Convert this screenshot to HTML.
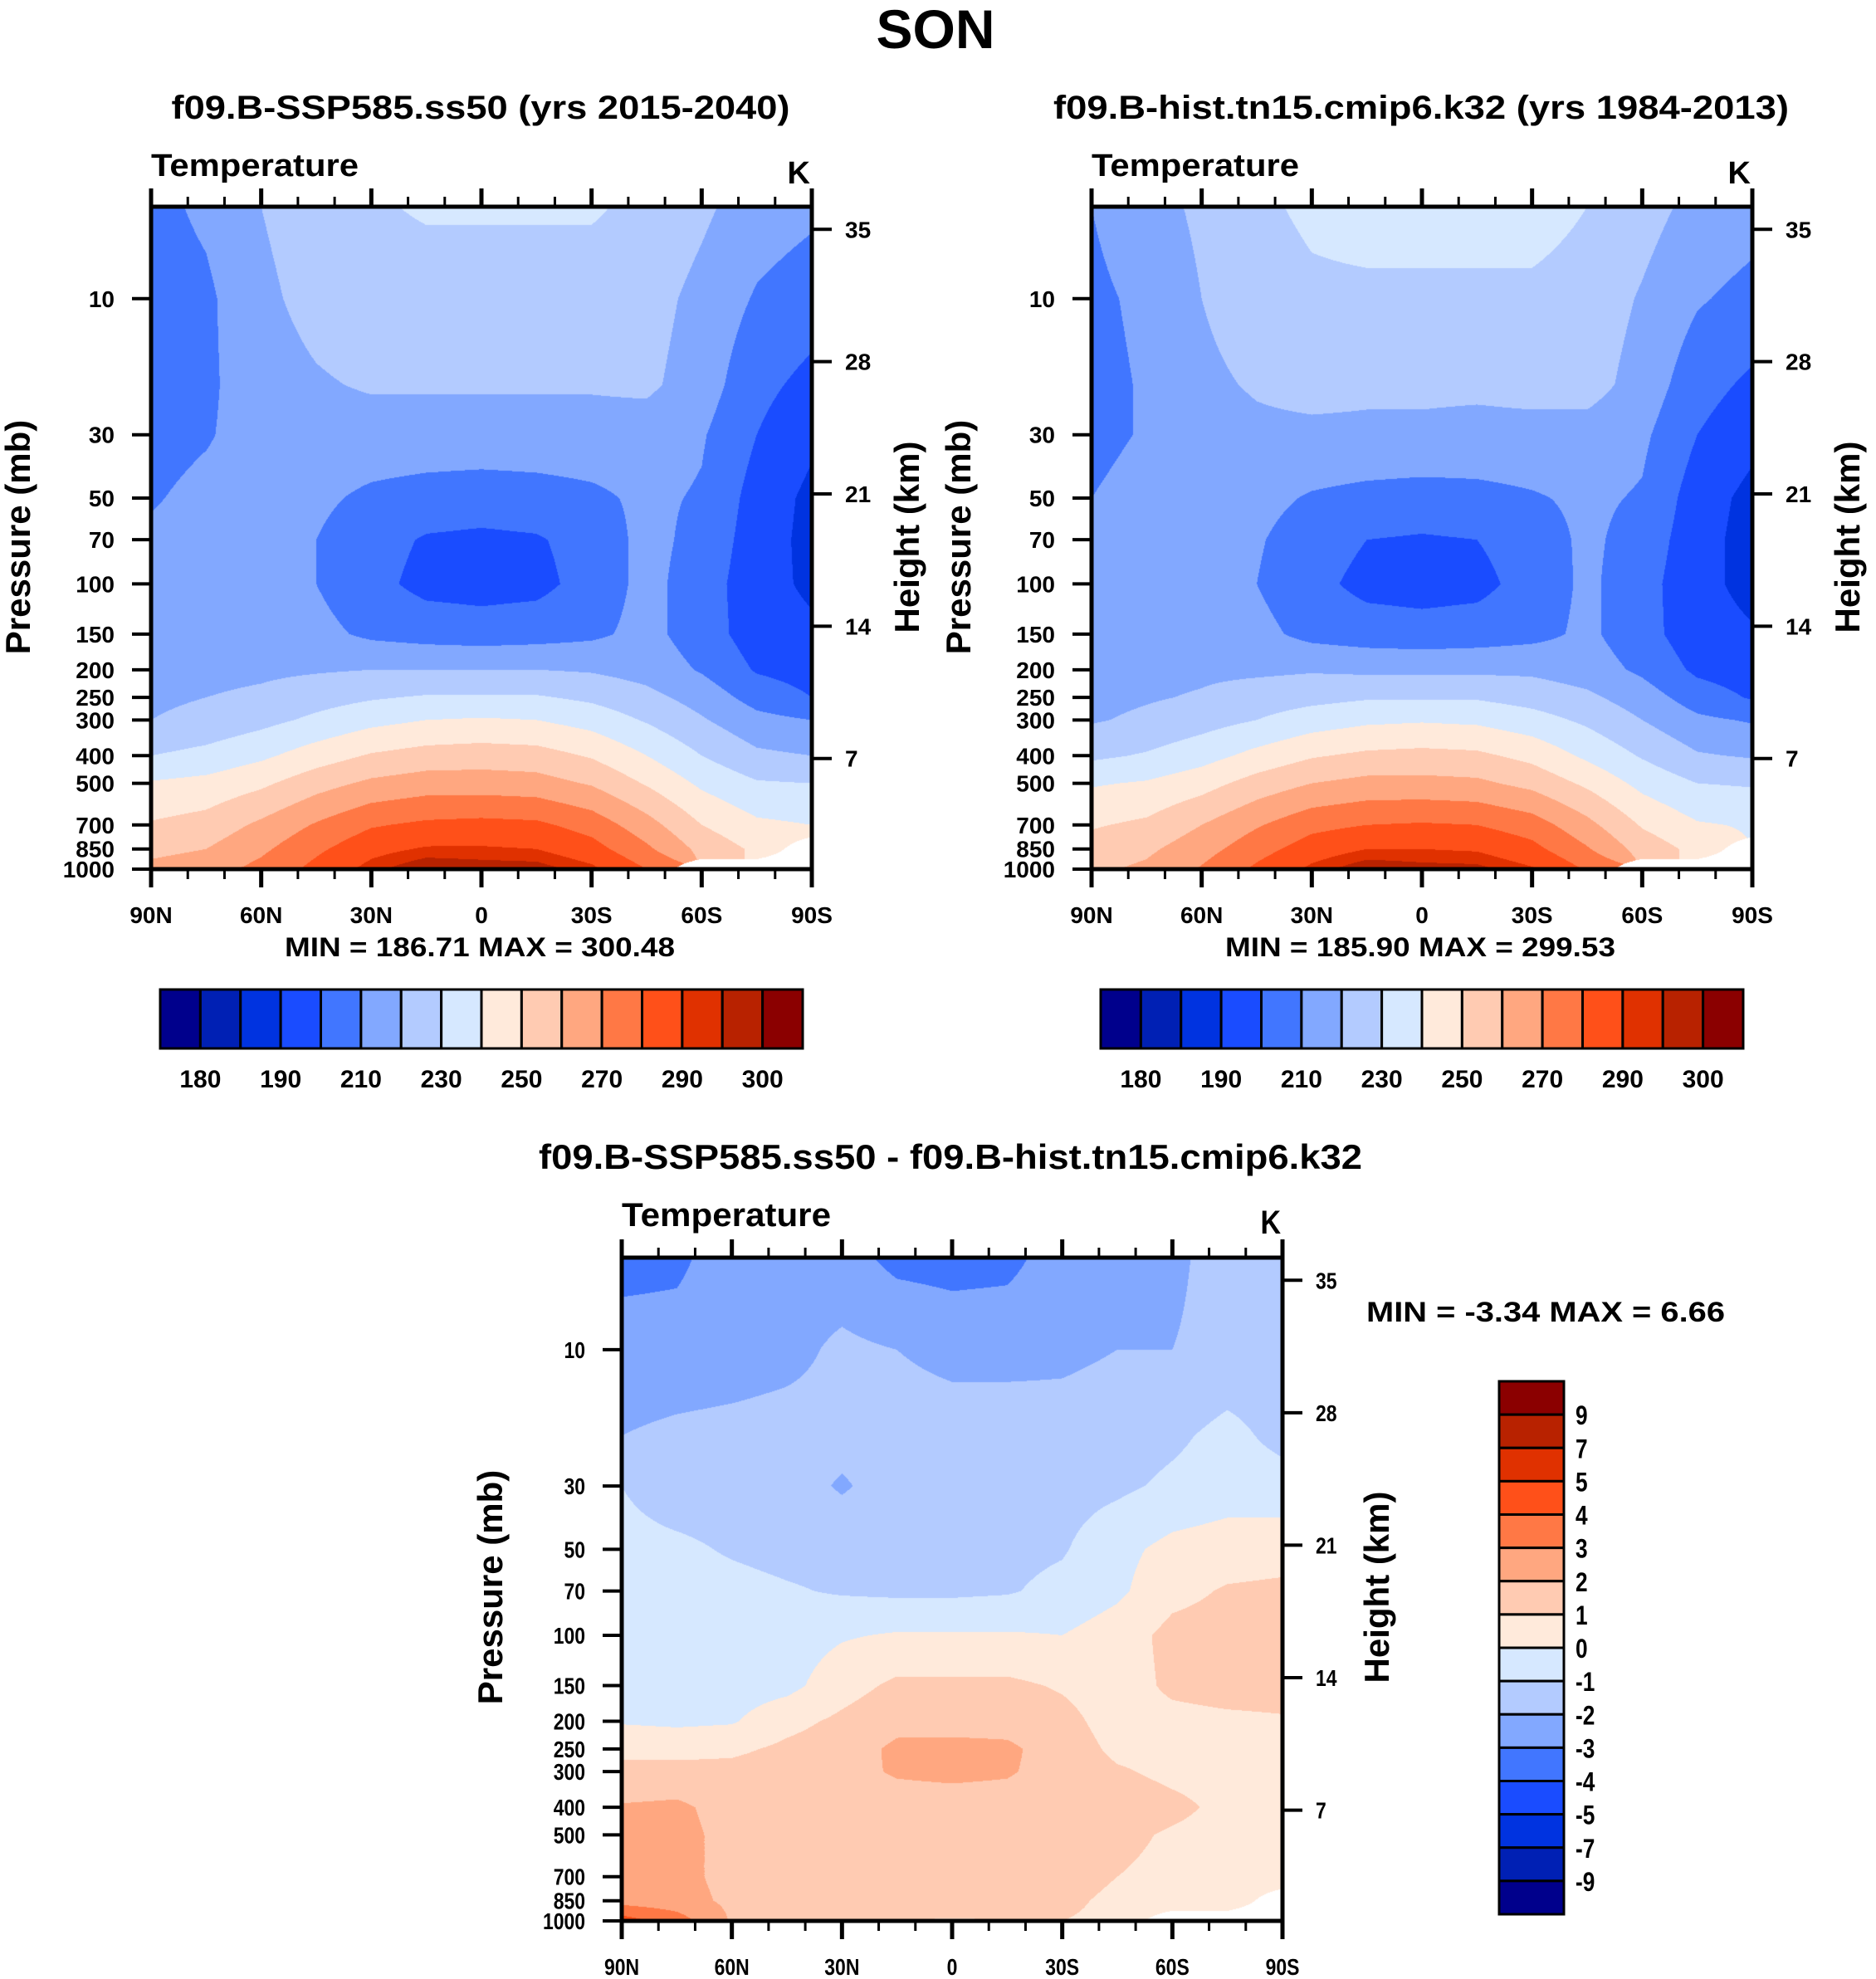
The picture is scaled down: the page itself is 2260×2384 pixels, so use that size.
<!DOCTYPE html>
<html><head><meta charset="utf-8">
<style>
html,body{margin:0;padding:0;background:#fff;}
#root{position:relative;width:2260px;height:2384px;overflow:hidden;background:#fff;}
canvas{position:absolute;}
svg{position:absolute;left:0;top:0;}
text{font-family:"Liberation Sans",sans-serif;font-weight:bold;fill:#000;}
</style></head>
<body>
<div id="root">
<canvas id="c1"></canvas>
<canvas id="c2"></canvas>
<canvas id="c3"></canvas>
<svg id="svg" width="2260" height="2384"></svg>
</div>
<script>
// ---- data ----
const LATS = [90,75,60,45,30,15,0,-15,-30,-45,-60,-75,-90];
const LEVELS = [4.76,10,20,30,50,70,100,150,200,250,300,400,500,700,850,1000];
const N = NaN;
const SSP = [
[207,212,220,225,229,231,231,231,231,228,222,215,212],
[205,208,218,223,226,226,226,226,226,224,217,209,205],
[205,208,216,219,221,221,221,221,221,222,215,203,197],
[206,209,215,216,216,216,216,216,216,215,211,200,192],
[209,213,214,212,208,206,205,206,208,212,209,196,187.5],
[212,214,213,210,204,199,198,199,204,213,207,195,187],
[213,215,214,210,203,197,196,197,204,213,205,194,188],
[214,216,216,213,208,206,205,206,208,213,205,195,192],
[216,217,218,219,220,220,220,220,219,216,209,199,196],
[218,220,222,226,229,231,231,231,228,223,216,206,200],
[220,223,227,232,237,240,241,240,236,229,221,213,210],
[230,233,238,245,251,254,255,254,249,240,230,222,220],
[241,243,248,256,262,265,265,264,259,249,238,231,230],
[251,254,262,271,279,282,283,282,276,264,250,242,240],
[257,260,268,278,287,291,291,290,284,272,257,248,N],
[263,266,273,283,293,300.3,298.5,298,292,280,N,N,N]];
const HIST = [
[210,216,222,228,232,234,234,234,234,230,224,217,214],
[208,212,220,225,228,228,228,228,228,226,219,211,207],
[207,211,218,221,223,222,222,222,223,224,216,204,198],
[207,211,216,218,218,218,218,217,217,216,212,200,193],
[210,214,215,213,209,207,206,207,209,212,209,195,187],
[212,214,214,211,205,200,199,200,205,212,206,194,186],
[213,215,214,210,203,197,196,197,204,212,204,193,187],
[214,216,216,213,207,205,204,205,207,212,204,194,191],
[216,217,218,218,219,218,218,218,218,215,208,198,195],
[217,219,221,225,227,229,229,229,226,222,215,205,199],
[219,222,226,230,235,238,239,238,234,228,220,212,209],
[228,231,236,243,249,252,253,252,247,238,229,221,219],
[239,241,246,254,260,263,263,262,257,248,237,230,229],
[249,252,260,269,277,280,281,280,275,263,249,241,239],
[254,258,266,276,285,290,290,289,283,271,256,247,N],
[258,262,271,282,292,299.5,297.5,297,291,279,N,N,N]];
const DIFF = [
[-3.3,-3.2,-2.5,-2.5,-2.6,-3.3,-3.4,-3.3,-2.5,-2.4,-2.2,-1.6,-1.5],
[-2.6,-2.6,-2.5,-2.3,-1.8,-2.0,-2.3,-2.3,-2.2,-2.0,-2.0,-1.7,-1.6],
[-2.0,-1.8,-1.7,-1.6,-1.7,-1.5,-1.5,-1.5,-1.6,-1.5,-1.2,-0.7,-1.3],
[-1.0,-1.5,-1.5,-1.6,-2.1,-1.6,-1.5,-1.4,-1.4,-1.2,-0.8,-0.5,-0.6],
[-0.7,-0.8,-1.1,-1.3,-1.4,-1.4,-1.4,-1.3,-1.1,-0.3,0.3,0.5,0.6],
[-0.6,-0.6,-0.7,-0.9,-1.1,-1.2,-1.2,-1.1,-0.7,-0.2,0.7,1.1,1.2],
[-0.5,-0.5,-0.5,-0.5,-0.1,0.1,0.1,0.1,0.0,0.5,1.3,1.4,1.4],
[-0.3,-0.5,-0.5,-0.3,0.6,1.2,1.2,1.2,0.9,0.5,1.2,1.4,1.4],
[-0.1,-0.2,-0.1,0.7,1.2,1.7,1.6,1.6,1.3,0.6,0.7,0.8,0.9],
[0.8,0.7,0.8,1.2,1.5,2.2,2.3,2.2,1.5,0.8,0.7,0.7,0.7],
[1.2,1.3,1.3,1.5,1.7,2.1,2.2,2.1,1.6,1.1,0.8,0.7,0.7],
[2.1,2.2,1.6,1.6,1.6,1.6,1.6,1.6,1.5,1.5,1.2,0.8,0.7],
[2.3,2.3,1.7,1.5,1.5,1.5,1.5,1.5,1.5,1.2,0.9,0.7,0.7],
[2.4,2.3,1.7,1.5,1.5,1.5,1.4,1.3,1.2,1.0,0.8,0.7,0.7],
[2.6,2.4,1.8,1.5,1.4,1.3,1.3,1.2,1.1,0.9,0.8,0.7,N],
[4.5,3.5,1.9,1.4,1.2,1.0,0.95,1.0,1.0,0.9,N,N,N]];
const LEV_T = [180,185,190,200,210,220,230,240,250,260,270,280,290,295,300];
const LEV_D = [-9,-7,-5,-4,-3,-2,-1,0,1,2,3,4,5,7,9];
const COLORS = ["#00008c","#0020b4","#0033e0","#1a4cff","#4176ff","#82a8ff","#b3cbff","#d6e8ff",
"#ffeadb","#ffcbb2","#ffa780","#ff7845","#ff5019","#e03100","#b82200","#8b0000"];
const P_TICKS = [10,30,50,70,100,150,200,250,300,400,500,700,850,1000];
const H_TICKS = [35,28,21,14,7];
const LAT_MAJOR = [90,60,30,0,-30,-60,-90];
const LAT_LABELS = ["90N","60N","30N","0","30S","60S","90S"];
const T_LABEL_IDX = [0,2,4,6,8,10,12,14];

const PTOP = 4.76, D = Math.log10(1000/PTOP);
const P1 = {x:182,y:249,w:796,h:798,cond:1,canvas:'c1',data:SSP,lev:LEV_T,name:'ssp'};
const P2 = {x:1315,y:249,w:796,h:798,cond:1,canvas:'c2',data:HIST,lev:LEV_T,name:'hist'};
const P3 = {x:749,y:1515,w:796,h:799,cond:0.82,canvas:'c3',data:DIFF,lev:LEV_D,name:'diff'};

function xOf(lat,P){return P.x+(90-lat)/180*P.w;}
function yOf(p,P){return P.y+P.h-P.h*Math.log10(1000/p)/D;}
function yH(km,P){return P.y+P.h-P.h*(0.167+0.02853*(km-7));}

function hexRGB(h){return [parseInt(h.substr(1,2),16),parseInt(h.substr(3,2),16),parseInt(h.substr(5,2),16)];}
const RGB = COLORS.map(hexRGB);

function drawField(P){
  const c=document.getElementById(P.canvas);
  c.width=P.w;c.height=P.h;c.style.left=P.x+'px';c.style.top=P.y+'px';
  const ctx=c.getContext('2d');const img=ctx.createImageData(P.w,P.h);
  const logL=LEVELS.map(v=>Math.log10(v));
  const nl=LATS.length-1;
  for(let py=0;py<P.h;py++){
    const frac=(P.h-py-0.5)/P.h;const lp=3-frac*D;
    let i=0;while(i<logL.length-2&&lp>logL[i+1])i++;
    let t=(lp-logL[i])/(logL[i+1]-logL[i]);t=Math.max(0,Math.min(1,t));
    for(let px=0;px<P.w;px++){
      const gx=(px+0.5)/P.w*nl;let j=Math.min(nl-1,Math.floor(gx));const s=gx-j;
      const vals=[P.data[i][j],P.data[i][j+1],P.data[i+1][j],P.data[i+1][j+1]];
      const ws=[(1-s)*(1-t),s*(1-t),(1-s)*t,s*t];
      let sum=0,wsum=0,nanw=0;
      for(let q=0;q<4;q++){if(isNaN(vals[q]))nanw+=ws[q];else{sum+=vals[q]*ws[q];wsum+=ws[q];}}
      const k=(py*P.w+px)*4;
      let col;
      if(nanw>0.5||wsum===0){col=[255,255,255];}
      else{
        const v=sum/wsum;
        let ci=0;while(ci<P.lev.length&&v>=P.lev[ci])ci++;
        col=RGB[ci];
      }
      img.data[k]=col[0];img.data[k+1]=col[1];img.data[k+2]=col[2];img.data[k+3]=255;
    }
  }
  ctx.putImageData(img,0,0);
}

const svg=document.getElementById('svg');
const NS='http://www.w3.org/2000/svg';
function mk(tag,attrs){const e=document.createElementNS(NS,tag);for(const k in attrs)e.setAttribute(k,attrs[k]);svg.appendChild(e);return e;}
function txt(str,x,y,size,anchor,cond,rot){
  const e=mk('text',{'font-size':size,'text-anchor':anchor||'start'});
  let tr='translate('+x+','+y+')';if(rot)tr+=' rotate('+rot+')';if(cond&&cond!==1)tr+=' scale('+cond+',1)';
  e.setAttribute('transform',tr);e.textContent=str;return e;
}

function drawAxes(P){
  const L=P.x,R=P.x+P.w,T=P.y,B=P.y+P.h;
  let e;
  for(let lat=90;lat>=-90;lat-=10){
    const x=xOf(lat,P);const major=(lat%30===0);const len=major?22:12;
    e=mk('line',{x1:x,y1:B,x2:x,y2:B+len,stroke:'#000','stroke-width':major?5:3});
    
    
    e=mk('line',{x1:x,y1:T,x2:x,y2:T-len,stroke:'#000','stroke-width':major?5:3});
    
    
  }
  LAT_MAJOR.forEach((lat,i)=>{
    e=txt(LAT_LABELS[i],xOf(lat,P),B+65,28,'middle',P.cond);
    
    
  });
  P_TICKS.forEach(p=>{
    const y=yOf(p,P);
    e=mk('line',{x1:L-23,y1:y,x2:L,y2:y,stroke:'#000','stroke-width':4});
    
    
    e=txt(String(p),L-44,y+10,28,'end',P.cond);
    
    
  });
  H_TICKS.forEach(km=>{
    const y=yH(km,P);
    e=mk('line',{x1:R,y1:y,x2:R+24,y2:y,stroke:'#000','stroke-width':4});
    
    
    e=txt(String(km),R+40,y+10,28,'start',P.cond);
    
    
  });
  e=mk('rect',{x:L,y:T,width:P.w,height:P.h,fill:'none',stroke:'#000','stroke-width':5});
  
  
}

function hColorbar(x,y,w,h,lev){
  const bw=w/16;let e;
  for(let i=0;i<16;i++){
    e=mk('rect',{x:x+i*bw,y:y,width:bw,height:h,fill:COLORS[i],stroke:'#000','stroke-width':3});
    
    
  }
  T_LABEL_IDX.forEach(k=>{
    e=txt(String(lev[k]),x+(k+1)*bw,y+h+47,30,'middle');
    
    
  });
}
function vColorbar(x,y,w,h,lev){
  const bh=h/16;let e;
  for(let i=0;i<16;i++){
    e=mk('rect',{x:x,y:y+i*bh,width:w,height:bh,fill:COLORS[15-i],stroke:'#000','stroke-width':3});
    
    
  }
  lev.forEach((v,k)=>{
    e=txt(String(v),x+w+14,y+h-(k+1)*bh+12,32,'start',0.82);
    
    
  });
}

[P1,P2,P3].forEach(P=>{drawField(P);drawAxes(P);});

let t;
t=txt('SON',1127,58,66,'middle');



t=txt('f09.B-SSP585.ss50 (yrs 2015-2040)',579,143,40,'middle');t.setAttribute('textLength',745);t.setAttribute('lengthAdjust','spacingAndGlyphs');


t=txt('Temperature',182,212,38,'start');t.setAttribute('textLength',250);t.setAttribute('lengthAdjust','spacingAndGlyphs');


t=txt('K',976,221,38,'end');


t=txt('Pressure (mb)',36,647,42,'middle',1,-90);


t=txt('Height (km)',1107,647,42,'middle',1,-90);


t=txt('MIN = 186.71   MAX = 300.48',578,1152,32,'middle');t.setAttribute('textLength',470);t.setAttribute('lengthAdjust','spacingAndGlyphs');


hColorbar(193,1192,774,71,LEV_T);

t=txt('f09.B-hist.tn15.cmip6.k32 (yrs 1984-2013)',1712,143,40,'middle');t.setAttribute('textLength',886);t.setAttribute('lengthAdjust','spacingAndGlyphs');


t=txt('Temperature',1315,212,38,'start');t.setAttribute('textLength',250);t.setAttribute('lengthAdjust','spacingAndGlyphs');


t=txt('K',2109,221,38,'end');


t=txt('Pressure (mb)',1169,647,42,'middle',1,-90);


t=txt('Height (km)',2240,647,42,'middle',1,-90);


t=txt('MIN = 185.90   MAX = 299.53',1711,1152,32,'middle');t.setAttribute('textLength',470);t.setAttribute('lengthAdjust','spacingAndGlyphs');


hColorbar(1326,1192,774,71,LEV_T);

t=txt('f09.B-SSP585.ss50 - f09.B-hist.tn15.cmip6.k32',1145,1408,42,'middle');t.setAttribute('textLength',992);t.setAttribute('lengthAdjust','spacingAndGlyphs');


t=txt('Temperature',749,1477,40,'start');t.setAttribute('textLength',252);t.setAttribute('lengthAdjust','spacingAndGlyphs');


t=txt('K',1543,1486,40,'end',0.85);


t=txt('Pressure (mb)',605,1912,42,'middle',1,-90);


t=txt('Height (km)',1673,1912,42,'middle',1,-90);


t=txt('MIN =  -3.34  MAX =   6.66',1646,1592,34,'start');t.setAttribute('textLength',432);t.setAttribute('lengthAdjust','spacingAndGlyphs');


vColorbar(1806,1664,78,642,LEV_D);
</script>
</body></html>
